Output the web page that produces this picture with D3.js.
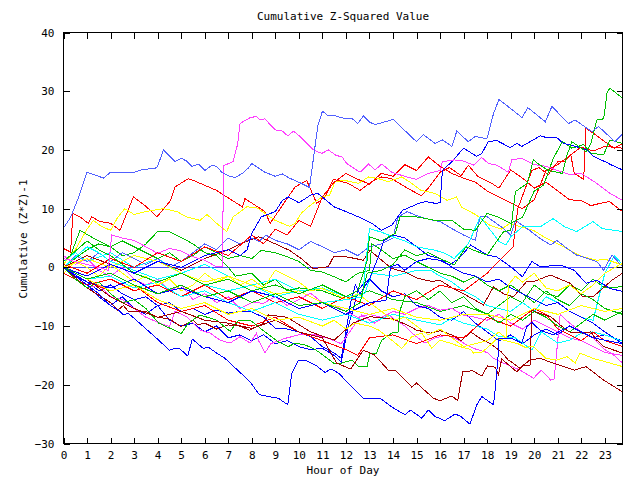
<!DOCTYPE html>
<html><head><meta charset="utf-8">
<script src="https://cdn.jsdelivr.net/npm/d3@7"></script>
<style>
body{margin:0;background:#fff;}
text{font-family:"DejaVu Sans Mono",monospace;font-size:11px;fill:#000;}
</style></head>
<body><svg id="c" width="640" height="480"></svg>
<script>
// ---- data (hour of day, cumulative (z*z)-1) ----
const hourTicks = d3.range(0, 24);
const valueTicks = [-30, -20, -10, 0, 10, 20, 30, 40];
const title = "Cumulative Z-Squared Value";
const xTitle = "Hour of Day";
const yTitle = "Cumulative (Z*Z)-1";

const LB1 = [[0,6.7],[0.3,8.5],[0.65,12],[1.0,16.2],[1.3,15.8],[1.7,15.2],[2.0,16.2],[2.5,16.2],[3.0,16.2],[3.3,16.6],[3.9,16.9],[4.0,17.2],[4.24,20.0],[4.74,18.0],[5.0,18.6],[5.23,18.1],[5.45,17.2],[5.74,17.6],[6.01,16.5],[6.3,17.4],[6.51,17.2],[6.72,16.2],[7.0,15.6],[7.3,15.3],[7.6,16.0],[7.85,16.9],[8.0,17.7],[8.56,16.2],[9.0,15.5],[9.3,15.9],[9.6,15.2],[10.0,14.5],[10.45,13.6],[10.6,18],[10.8,24],[11.0,26.6],[11.25,25.8],[11.54,25.8],[11.82,25.5],[12.03,25.3],[12.25,25.4],[12.5,24.5],[12.74,25.8],[13.02,24.7],[13.24,24.3],[13.66,24.8],[14.01,25.2],[14.37,23.8],[15.0,21.4],[15.29,22.6],[15.79,21.1],[16.1,21.7],[16.5,20.6],[16.71,23.2],[17.2,21.4],[17.49,22.3],[17.99,21.9],[18.27,26.2],[18.5,28.6],[18.98,27.1],[19.48,25.5],[19.73,27.2],[20.47,24.8],[20.75,27.4],[21.46,24.5],[21.74,25.1],[22.45,23.1],[22.73,24.0],[23.43,21.4],[23.72,22.6],[23.75,22.4]];
const M1 = [[0,1.5],[0.5,1],[1,0.5],[1.5,0],[1.9,-0.5],[2.05,5.5],[2.5,5],[3,4.6],[3.5,3.5],[4,2.4],[4.5,3.2],[5,2.8],[5.5,1.8],[6,1.2],[6.5,0.1],[6.75,0.1],[6.8,17.3],[7.2,18.0],[7.4,21],[7.5,24.5],[7.93,25.5],[8.2,25.7],[8.35,25.1],[8.55,25.3],[9.0,23.4],[9.27,23.3],[9.53,22.4],[9.77,23.2],[10.05,22.3],[10.62,20.0],[10.97,19.4],[11.25,20.0],[11.61,19.0],[11.82,18.9],[12.03,17.7],[12.6,16.2],[12.96,17.6],[13.24,16.6],[13.52,17.6],[13.95,16.2],[14.5,15.5],[15,15],[15.5,16],[16,16.5],[16.1,18.0],[16.6,18.3],[17.0,18.1],[17.42,17.4],[17.77,18.7],[18.05,17.7],[18.41,17.4],[18.9,16.2],[19.05,18.3],[19.46,18.6],[20,17.5],[20.5,17.2],[21,16.5],[21.5,15.8],[22.0,16.0],[22.66,14.3],[23.22,12.6],[23.75,11.4]];
const B1 = [[0,0],[0.5,-1.5],[1,-3],[1.5,-4.5],[2,-6.5],[2.4,-7.5],[2.55,-8.1],[2.75,-7.8],[3.96,-12.1],[4.5,-14.1],[4.74,-13.8],[4.95,-13.9],[5.28,-15.1],[5.47,-12.2],[5.94,-13.8],[6.15,-13.6],[6.51,-14.6],[6.86,-15.5],[7.93,-19.5],[8.32,-21.7],[9.13,-22.3],[9.53,-23.4],[9.7,-18.0],[9.98,-15.8],[10.33,-15.9],[10.76,-16.8],[11.11,-17.9],[11.37,-17.3],[11.68,-18.0],[12.74,-22.3],[13.45,-22.3],[13.95,-23.8],[14.51,-25.1],[14.75,-24.3],[15.22,-25.7],[15.5,-24.3],[15.79,-25.4],[16.2,-26.1],[16.63,-25.0],[16.85,-25.3],[17.27,-26.7],[17.56,-23.4],[17.77,-22.0],[18.27,-23.4],[18.34,-20.9],[18.48,-14.4],[18.5,-12.2],[19.11,-12.2],[19.47,-12.9],[19.68,-10.1],[19.9,-9.4],[20.25,-10.7],[20.8,-11.5],[21.5,-10],[22.5,-12],[23.75,-13]];
const DR1 = [[0,0],[1,-2],[2,-5],[3,-7],[4,-8.5],[5,-7.5],[6,-9],[7,-9.5],[8,-10.4],[9,-9],[10,-11],[11,-12],[11.6,-16.3],[12.2,-17.3],[12.74,-14.1],[13.2,-14.9],[13.8,-17.5],[14.1,-17.5],[14.8,-20.4],[15,-19.7],[15.72,-22.3],[16,-22.7],[16.5,-21.9],[16.75,-22.7],[16.96,-17.8],[17.37,-17.6],[17.77,-18.5],[18.01,-16.8],[18.34,-17],[18.48,-18.3],[18.62,-15.6],[19.26,-17.8],[19.54,-16.6],[19.82,-16.8],[19.9,-7.3],[20.2,-7.8],[20.7,-8.4],[21.1,-9.8],[21.5,-11.0],[22.1,-11.2],[22.4,-11],[22.66,-12.4],[22.95,-13.5],[23.75,-14.6]];
const DR2 = [[0,0],[1,-3.5],[2,-6],[2.3,-7.3],[2.55,-6.5],[2.75,-7.5],[3.5,-7.5],[4,-8.5],[4.5,-8.8],[5,-10.1],[5.5,-9],[5.7,-9.8],[6,-9.5],[6.5,-10.5],[7,-9.8],[7.5,-10],[7.9,-10.7],[8.5,-9.5],[8.7,-8.1],[9.5,-8.5],[10.5,-11],[11.5,-12.4],[12.3,-9.5],[13,-8.4],[14,-8.8],[14.6,-9.8],[15,-10.7],[15.6,-11.2],[16,-10.8],[16.5,-11.5],[16.9,-12.5],[17.3,-11],[17.7,-12.1],[18.1,-12.9],[18.6,-14.4],[18.9,-15.8],[19.1,-16.3],[19.4,-17.2],[19.8,-15.8],[20.25,-15.5],[20.8,-16.3],[21.7,-17.5],[22.2,-16.9],[22.95,-19.2],[23.75,-21.2]];
const DR3 = [[0,0],[1,2],[2,0.5],[3,-1],[4,1],[5,-0.5],[6,1.5],[7,3],[7.5,4],[8.3,5.2],[9,4],[9.6,2.9],[10.1,1.5],[10.6,-0.2],[11.25,0.1],[11.47,1.8],[12,1.8],[12.4,1.5],[12.74,1.2],[13.02,2.9],[13.52,1.2],[13.95,-0.2],[14.51,-0.8],[15.08,-1.9],[15.65,-2.4],[16.0,-2.2],[16.5,-3.5],[17.0,-4.5],[17.84,-6.4],[18.27,-3.3],[18.7,-4.5],[19.12,-5.0],[19.68,-2.4],[20.0,-2.4],[20.68,-1.3],[21.52,-2.7],[22.07,-5.0],[22.5,-5.0],[23.3,-2.2],[23.75,-1.0]];
const R1 = [[0,3.2],[0.3,2.6],[0.4,9.2],[0.7,8.6],[1.05,7.5],[1.2,8.6],[1.55,7.8],[2,7.5],[2.4,6.3],[2.97,12.0],[3.53,10.3],[3.96,8.6],[4.1,9.2],[4.55,11.4],[4.74,13.7],[5.3,15.1],[5.52,14.8],[6.51,13.1],[6.93,12.0],[7.6,10.3],[7.71,11.7],[8.56,9.5],[8.78,7.5],[9.84,13.7],[10.33,14.8],[10.76,10.9],[11.11,12.0],[11.47,15.0],[12.1,14.3],[12.6,13.1],[13.1,14.6],[13.52,15.4],[13.95,15.1],[14.65,13.4],[15.2,12.2],[15.5,13.5],[16,16.2],[16.4,17.0],[16.9,15.6],[17.2,17.4],[17.6,15.5],[18.2,14.3],[18.5,13.5],[19,16.6],[19.5,15.2],[20,13.5],[20.5,14.5],[21,13.0],[21.5,11.5],[22,11.4],[22.4,10.5],[22.8,10.9],[23.2,11.2],[23.75,9.5]];
const R2 = [[0,-1],[1,-3],[2,-2],[3,-4],[4,-3],[5,-5],[6,-3],[7,-5.5],[8,-4],[9,-6],[10,-5],[11,-7],[12,-5],[13,-6.5],[14,-4],[15,-5.5],[16,-3],[17,-4],[18,-1],[18.6,1.5],[19.1,3.5],[19.3,10],[19.7,14.3],[19.9,16.5],[20.2,17.0],[20.6,15.8],[21.0,18.0],[21.3,18.0],[21.55,19.2],[21.7,16],[22.1,15.0],[22.2,23.7],[22.6,22.6],[23.0,21.4],[23.4,20.3],[23.75,21.1]];
const R3 = [[0,0.5],[1,-1],[2,1.5],[3,0],[4,2.5],[5,1],[6,3.5],[7,2],[8,5.5],[8.5,4],[9,6.5],[9.5,5.5],[10,8],[10.5,7],[11,12],[11.5,14.5],[12,16.0],[12.5,15],[13,14.2],[13.5,16.0],[14,15.5],[14.5,17.5],[15,16.5],[15.5,18.8],[16,17.2],[16.5,16.0],[17,15.2],[17.5,14.5],[18,13.0],[18.5,12.0],[19,11.0],[19.5,10.0],[20,11.5],[20.5,16.5],[21,17.5],[21.5,19.0],[22,20.5],[22.5,19.8],[23,20.6],[23.75,20.3]];
const R4 = [[0,0],[1,-2.5],[2,-4],[3,-3],[4,-6],[5,-7.5],[6,-6.5],[7,-9],[8,-10],[9,-8.5],[10,-11],[11,-12.5],[12,-14],[12.5,-15],[13,-12],[14,-11.5],[15,-13],[16,-11.5],[17,-12],[18,-8.5],[19,-10],[20,-7],[20.5,-8],[21,-10.5],[22,-12.5],[22.5,-11],[23,-12.5],[23.75,-13.5]];
const G1 = [[0,0],[1,-2],[2,-1],[3,-3],[4,-4.5],[5,-3],[6,-5],[7,-4],[8,-6],[9,-4.5],[10,-6.5],[11,-6],[12,-7.5],[12.6,-6],[12.9,-1],[13.5,-0.5],[14,0.5],[14.5,3],[15,2],[15.5,2.5],[16,1.5],[16.6,0.4],[17.1,3.5],[17.5,2.8],[18,2.1],[18.4,4.4],[18.7,6.1],[19,6.3],[19.2,12.9],[19.7,14.3],[19.85,16.5],[19.96,18.3],[20.25,17.4],[20.6,16.5],[21.2,16],[21.4,19.2],[21.6,21.4],[22.0,20.3],[22.2,19.7],[22.4,21],[22.66,25.1],[22.95,25.3],[23.1,29.9],[23.22,30.5],[23.75,28.8]];
const G2 = [[0,1],[1,4.5],[1.5,3],[2,2],[3,-1],[4,-2.5],[5,-1],[6,-3],[7,-2],[8,-4],[9,-3],[10,-4.5],[11,-3],[12,-5],[12.5,-4],[12.9,1.2],[13.0,5.2],[13.5,4.5],[14.1,5.8],[14.3,8.6],[15,8.6],[15.8,8.0],[16.5,8.0],[17,6.5],[17.5,6.3],[18,9.2],[18.5,8.5],[19,7.5],[19.5,8.5],[20,13],[20.4,14],[20.8,18.5],[21.2,21.4],[21.6,20.3],[22.1,20.9],[22.4,19.4],[22.95,19.2],[23.22,21.7],[23.75,21.1]];
const G3 = [[0,0.5],[0.3,2],[0.7,6.3],[1.3,4.9],[2,3.5],[2.5,2],[3,2.5],[3.5,4],[4,6.1],[4.5,6.1],[4.95,5.2],[5.5,4],[6,2.5],[6.5,2],[7,0],[7.3,-1.5],[8,-1],[8.5,-3],[9,-2],[9.5,-4],[10,-3.5],[11,-4],[12,-5.5],[13,-4],[14,-5.5],[15,-6],[16,-7.5],[17,-6.5],[18,-8],[19,-5],[19.5,-6],[20,-3],[20.5,-4.5],[21,-5],[21.5,-3],[22,-4],[22.5,-2],[23,-3.5],[23.75,-3.3]];
const G4 = [[0,0],[0.5,-2],[1,-3.5],[1.5,-2.5],[2,-4.5],[2.5,-6],[3,-5.5],[3.5,-7],[4.05,-9.5],[4.6,-10.5],[5.0,-11.3],[5.3,-9.5],[5.8,-8.1],[6.5,-9],[7.08,-10.9],[7.43,-9.0],[7.93,-9.0],[8.4,-10.5],[9.13,-12.7],[9.55,-13.5],[9.84,-12.9],[10.26,-13.2],[10.7,-14],[11.11,-15.2],[11.47,-16.3],[11.82,-16.3],[12.25,-15.8],[12.53,-16.9],[12.9,-16.9],[13.02,-14.6],[13.3,-14.6],[13.52,-12.4],[13.95,-11.2],[14.22,-11],[14.3,-7.3],[14.5,-5],[15,-4],[15.5,-5.5],[16,-4],[16.5,-6],[17,-5],[17.5,-7],[18,-8],[18.5,-9.5],[19,-8],[19.5,-9],[20,-7.5],[20.5,-8.5],[21,-10],[21.5,-11],[22,-9.5],[22.5,-8],[23,-9],[23.75,-7.5]];
const G5 = [[0,0],[0.5,1.5],[1,3],[1.5,4],[2,3.5],[2.5,4.5],[3,3.5],[3.5,2.5],[4,1.5],[4.5,2.5],[5,1],[5.5,2],[6,3.5],[6.5,2.5],[7,1.5],[7.5,2],[8,1.5],[8.4,2.9],[9,2.5],[9.5,1.8],[10,1.0],[10.5,-0.5],[11,-0.8],[11.5,-1.6],[12,-2.5],[12.5,-1],[13,-0.5],[13.1,4],[13.5,3],[14,1.5],[14.5,2.1],[15,1],[15.5,0],[16,-1],[16.5,-1.5],[17,-2.5],[17.5,-1.5],[18,-3],[18.5,-4],[19,-3],[19.5,-4.5],[20,-6],[20.5,-4],[21,-5.5],[21.5,-6.5],[22,-4.5],[22.5,-5.5],[23,-7],[23.75,-8]];
const B2 = [[0,0],[1,-1.5],[2,0.5],[3,-1],[4,1],[5,0],[6,2],[7,3],[7.5,2],[7.8,3],[8.0,5.8],[8.4,8.6],[9.0,9.5],[9.3,11.4],[9.55,12.0],[10,11.0],[10.5,12.3],[10.8,12.6],[11.5,10.3],[12,9.5],[12.7,8.3],[13.1,7.5],[13.5,6.3],[13.95,7.2],[14.4,9.7],[15.1,10.9],[15.4,11.2],[15.8,10.9],[16.0,11.0],[16.1,16.5],[16.5,18],[17,20.3],[17.55,18.9],[17.77,19.4],[18.05,21.4],[18.41,21.6],[18.98,20.4],[19.26,21.1],[19.47,20.6],[19.82,21.4],[20.25,22.4],[20.53,22.1],[20.96,22.1],[21.24,21.1],[21.52,20.9],[22.23,20.0],[22.51,18.9],[23.01,18.0],[23.3,17.4],[23.75,16.6]];
const B3 = [[0,0],[1,-2.5],[2,-3.5],[3,-2],[4,-4.5],[5,-3.5],[6,-5],[7,-6],[8,-4],[9,-5],[10,-7],[11,-6],[12,-8],[12.5,-7],[13,-6],[13.7,-5.6],[13.9,0.1],[14.2,0.5],[14.5,-0.5],[15,1],[15.5,1.5],[16,1.2],[16.4,0.4],[16.8,1.5],[17.3,3.8],[18,2.1],[18.4,1.8],[19,0.1],[19.5,-1.6],[19.9,1.0],[20.25,0.1],[21.1,0.4],[21.7,-0.5],[22.2,-2.7],[22.66,-2.2],[23.22,-3.6],[23.75,-4.1]];
const B4 = [[0,0],[0.5,-1.5],[1,-3],[1.5,-5],[2,-6.5],[2.5,-5],[3,-7],[3.5,-8],[4,-6.5],[4.5,-9],[5,-10],[5.5,-9.5],[6,-11],[6.5,-10],[7,-12],[7.5,-11.5],[8,-12.5],[8.5,-11.5],[9,-13],[9.5,-12.5],[10,-13.5],[10.5,-14],[11,-13.8],[11.5,-15],[11.8,-16.1],[12.1,-10],[12.3,-7.3],[12.5,-4],[12.7,-3],[13,-2],[13.5,-4],[14,-5],[14.5,-4.5],[15,-6.5],[15.5,-7],[16,-8.5],[16.5,-9],[17,-7.5],[17.5,-9.5],[18,-11],[18.5,-12.5],[19,-11.5],[19.5,-13],[20,-11.5],[20.5,-10.5],[21,-11.5],[21.5,-10],[22,-11],[22.5,-12],[23,-11.5],[23.75,-12.5]];
const B5 = [[0,0],[0.5,-1.5],[1,-2.5],[1.5,-4],[2,-3],[2.5,-4.5],[3,-5.5],[3.5,-5],[4,-6.5],[4.5,-6],[5,-7.5],[5.5,-7],[6,-8],[6.5,-7.3],[7,-7.8],[7.5,-7.5],[8,-7.6],[8.5,-8.5],[9,-10.4],[9.5,-10.5],[10,-11],[10.5,-11.8],[11,-13.5],[11.5,-14.6],[11.8,-15.5],[12.0,-11],[12.2,-6],[12.4,-3],[12.6,-4.5],[13,-2],[13.4,2],[13.6,4.5],[14,5.5],[14.5,5],[15,3.5],[15.5,2],[16,1.5],[16.5,0],[17,-1],[17.5,-1.5],[18,-2.5],[18.5,-2],[19,-3.5],[19.5,-4.5],[20,-5.5],[20.5,-6.5],[21,-6],[21.5,-7.5],[22,-8.5],[22.5,-9.5],[23,-11],[23.75,-13]];
const C1 = [[0,0],[1,3.5],[1.5,2.5],[2,1],[3,-0.5],[4,-2],[5,-1],[6,-3],[7,-4],[8,-3],[9,-5],[10,-4],[11,-6],[12,-5.5],[12.7,-5],[13.0,6.6],[13.5,6.0],[14,5.2],[14.5,4.5],[15,3.5],[15.8,2.9],[16.2,2.4],[16.6,1.5],[17.2,4],[17.7,8.6],[18.2,6],[18.5,4.4],[18.8,3.8],[19.0,5.2],[19.5,6.9],[20.25,6.9],[20.8,8.3],[21.3,6.9],[21.8,6.1],[22.5,7.8],[22.9,6.6],[23.75,6.1]];
const C2 = [[0,0],[1,-2],[2,-1.5],[3,-3.5],[4,-2.5],[5,-5],[6,-4],[7,-6],[8,-7.5],[9,-6],[10,-8],[11,-9],[12,-8],[13,-9.5],[14,-8],[15,-9],[16,-9.8],[16.5,-8.7],[17,-9.5],[18,-10.5],[18.5,-11.8],[19.2,-12],[19.9,-14.1],[20.3,-11],[21,-12.9],[21.5,-12.4],[22,-11.2],[22.5,-11],[23,-11.5],[23.75,-12.6]];
const C3 = [[0,1],[0.5,2.5],[1,1],[2,2.5],[3,0],[4,1.5],[5,-1],[6,0.5],[7,-1.5],[8,-3],[9,-2],[10,-4],[11,-3.5],[12,-5],[12.8,-4.5],[13.1,-1],[14,-1.5],[15,-0.5],[15.6,-0.5],[16,-1.5],[16.5,-2.5],[17,-4],[17.5,-5],[18,-6.5],[18.5,-7],[19,-7.5],[19.5,-6],[20,-7.5],[20.5,-5],[21,-6],[21.5,-7.5],[22,-8.5],[22.5,-9],[23,-1],[23.4,2],[23.75,0.5]];
const Y1 = [[0,0.5],[0.5,3],[1.0,6.5],[1.27,8.0],[1.6,7],[2,6.3],[2.3,8.5],[2.6,10],[3,9],[3.5,9.5],[4.24,10.0],[4.82,9.5],[5.23,8.6],[5.8,8.0],[6.1,9],[6.5,7.5],[6.93,6.1],[7.21,8.6],[7.78,10.3],[8.2,10.2],[8.56,9.2],[8.99,8.0],[9.6,7],[9.84,7.5],[10.1,9.2],[10.4,10.3],[10.98,12.0],[11.3,12.3],[11.54,14.6],[11.96,14.8],[12.53,14.3],[12.96,15.4],[13.38,15.1],[13.8,14.6],[14.37,15.4],[14.8,14.3],[15.2,13.1],[15.79,12.6],[16.3,11.4],[16.7,12],[16.9,10.3],[17.5,9],[18.1,7.2],[18.6,6.5],[18.98,7.5],[19.5,6.8],[19.97,6.3],[20.4,5.2],[20.96,4.1],[21.52,2.9],[22.07,1.8],[22.66,1.2],[23.0,1.4],[23.75,0.4]];
const Y2 = [[0,0],[1,-2],[2,-4],[3,-3],[4,-5.5],[5,-7],[6,-6],[7,-8],[8,-7],[9,-9],[10,-8.5],[11,-10],[11.5,-9],[12,-10.5],[12.4,-9.5],[13,-10],[13.4,-10.7],[13.95,-12.4],[14.37,-13.8],[14.8,-11.8],[15.22,-11.2],[15.65,-13.8],[16.0,-12.4],[16.5,-13.0],[16.85,-13.5],[17.3,-14],[17.42,-14.6],[17.8,-14.4],[18.2,-13],[18.41,-12.1],[18.8,-12.5],[19.3,-13],[19.6,-13.6],[19.97,-13.5],[20.5,-15.5],[20.96,-15.8],[21.4,-15.2],[21.74,-16.3],[21.94,-14.6],[22.5,-15.5],[23.22,-16.3],[23.75,-16.9]];
const Y3 = [[0,0],[1,1.5],[2,0],[3,2],[4,1],[5,-1],[6,-2.5],[7,-1.5],[8,-3],[9,-4.5],[10,-4],[11,-6],[12,-7],[13,-8],[14,-7],[15,-8.5],[16,-9],[17,-8],[18,-8],[19,-9],[20,-7],[21,-8],[22,-6.5],[23,-7.5],[23.75,-7]];
const Y4 = [[0,-1],[0.5,1],[1,0],[1.5,-1.5],[2,0.5],[2.5,-1],[3,-2.5],[3.5,-1.5],[4,-3],[4.5,-2],[5,-4],[5.5,-3],[6,-1],[6.5,-2.5],[7,-1.5],[7.5,-3],[8,-2],[8.5,-3.5],[9,-0.5],[9.5,-1.5],[10,-2.5],[10.5,-4],[11,-3.6],[11.5,-4.5],[12,-5.5],[12.5,-4.5],[13,-6],[13.5,-7.5],[14,-9],[14.5,-8.5],[15,-10],[15.5,-11.5],[16,-10.5],[16.5,-12],[17,-13.5],[17.5,-13],[18,-12.5],[18.5,-11],[18.8,-12.1],[18.9,-3],[19.2,-1.5],[19.5,-2.5],[20,-1],[20.5,-3.5],[21,-4],[21.5,-3],[22,-4.5],[22.5,-3],[23,-1],[23.75,0.7]];
const M2 = [[0,0],[0.5,-2],[1,-3.5],[1.5,-3],[2,-5],[2.5,-5.5],[3,-7],[3.5,-8.5],[4.1,-9.5],[4.5,-10.1],[4.74,-7.5],[5.23,-8.4],[5.8,-10.7],[6.23,-11.2],[6.65,-12.4],[7.08,-12.9],[7.5,-11.8],[7.93,-12.9],[8.2,-11.2],[8.28,-12.4],[8.56,-14.6],[8.8,-13],[9.41,-12.1],[10,-11.5],[10.69,-11.5],[11.25,-12.1],[11.8,-13],[12.67,-8.1],[13.2,-9.5],[13.8,-8.1],[14.5,-10],[14.8,-11.2],[15.36,-12.9],[15.8,-12],[16.3,-11.5],[16.7,-12.2],[17.0,-12.9],[17.42,-13.8],[18.0,-14.5],[18.27,-15.5],[18.69,-16.3],[19.4,-17.5],[19.97,-18.9],[20.3,-17.5],[20.7,-19.2],[20.85,-19],[21.1,-8],[21.5,-9.5],[22,-11],[22.5,-12],[23,-14],[23.4,-15],[23.75,-16.3]];
const M3 = [[0,2],[0.5,0.5],[1,1.5],[1.5,-0.5],[2,-1.5],[2.5,0],[3,-2],[3.5,-3],[4,-2],[4.5,-4],[5,-3],[5.5,-5.5],[6,-4.5],[6.5,-6],[7,-5],[7.5,-7],[8,-6],[8.5,-6.1],[9,-5],[9.5,-6.5],[10,-5.5],[10.5,-4.4],[11,-6],[11.5,-6.5],[12,-7.5],[12.5,-8.5],[13,-8],[13.5,-8.5],[14,-7.5],[14.5,-8.0],[15,-7],[15.5,-6.5],[16,-7.3],[16.5,-7],[17,-8.2],[17.5,-8.5],[18,-9],[18.5,-8],[19,-9.5],[19.5,-10.5],[20,-9],[20.5,-10],[21,-11],[21.5,-12],[22,-12.5],[22.5,-13.5],[23,-14.5],[23.75,-15]];
const LB2 = [[0,0],[0.5,2],[1,1],[1.5,2.5],[2,1],[2.5,2.5],[3,1.5],[3.5,0.5],[4,1.5],[4.5,0],[5,1],[5.5,2.5],[6,4],[6.5,3],[7,5],[7.5,4],[8,5],[8.3,4.4],[8.6,5.5],[9,4.6],[9.5,4],[10,3],[10.5,4.4],[11,3.5],[11.5,2.5],[12,3],[12.5,2],[13,3.5],[13.5,4],[14,5],[14.2,8.5],[14.6,9.5],[15,8.8],[15.5,8.2],[16,7.8],[16.5,6.6],[17,5.5],[17.5,4.6],[17.7,8.6],[18,8.6],[18.7,6.6],[19.0,5.5],[19.2,8.0],[19.8,6.3],[20.25,4.9],[20.7,3.8],[20.96,4.6],[21.4,3.2],[21.8,2.1],[22.66,1.0],[22.95,-0.5],[23.3,2.1],[23.75,0.1]];

const seriesNames = ["R1","G3","B4","M3","C3","DR3","Y1","LB2","R2","G5","B5","M2","C2","DR2","Y4","R4","G4","B3","C1","Y3","R3","G2","B2","M1","DR1","Y2","G1","B1","LB1"];
const seriesData = {R1,G3,B4,M3,C3,DR3,Y1,LB2,R2,G5,B5,M2,C2,DR2,Y4,R4,G4,B3,C1,Y3,R3,G2,B2,M1,DR1,Y2,G1,B1,LB1};
const palette = {R:"#ff0000",G:"#00c000",B:"#0000ff",M:"#ff40ff",C:"#00ffff",DR:"#a00000",Y:"#ffff00",LB:"#5060ff"};

// ---- drawing ----
const svg = d3.select("#c");
const L = 63.5, R = 622.5, T = 32.5, Bm = 443.5;
const x = d3.scaleLinear().domain([0, 23.75]).range([L, R]);
const y = d3.scaleLinear().domain([-30, 40]).range([Bm, T]);

svg.append("rect").attr("width",640).attr("height",480).attr("fill","#fff");

// zero line
svg.append("line").attr("x1",L).attr("x2",R).attr("y1",Math.round(y(0))+0.5).attr("y2",Math.round(y(0))+0.5)
  .attr("stroke","#4848ff").attr("stroke-width",1).attr("shape-rendering","crispEdges");

const line = d3.line().x(d=>x(d[0])).y(d=>y(d[1]));
const g = svg.append("g");
seriesNames.forEach(n=>{
  const key = n.replace(/[0-9]/g,"");
  g.append("path").datum(seriesData[n]).attr("d",line)
    .attr("fill","none").attr("stroke",palette[key]).attr("stroke-width",1)
    .attr("shape-rendering","crispEdges");
});

// axes
const ax = svg.append("g").attr("shape-rendering","crispEdges");
ax.append("g").attr("transform",`translate(0,${Bm})`)
  .call(d3.axisBottom(x).tickValues(hourTicks).tickFormat(d3.format("d")).tickSizeInner(-6).tickSizeOuter(0).tickPadding(8));
ax.append("g").attr("transform",`translate(0,${T})`)
  .call(d3.axisTop(x).tickValues(hourTicks).tickFormat("").tickSizeInner(-6).tickSizeOuter(0));
ax.append("g").attr("transform",`translate(${L},0)`)
  .call(d3.axisLeft(y).tickValues(valueTicks).tickFormat(d3.format("d")).tickSizeInner(-6).tickSizeOuter(0).tickPadding(9));
ax.append("g").attr("transform",`translate(${R},0)`)
  .call(d3.axisRight(y).tickValues(valueTicks).tickFormat("").tickSizeInner(-6).tickSizeOuter(0));
ax.selectAll(".domain").remove();
ax.selectAll(".tick line").attr("stroke","#000");
ax.selectAll("text").attr("font-family","DejaVu Sans Mono").attr("font-size","11px").attr("fill","#000");
svg.append("rect").attr("x",L).attr("y",T).attr("width",R-L).attr("height",Bm-T)
  .attr("fill","none").attr("stroke","#000").attr("shape-rendering","crispEdges");

svg.append("text").attr("x",(L+R)/2).attr("y",20).attr("text-anchor","middle").text(title);
svg.append("text").attr("x",(L+R)/2).attr("y",474).attr("text-anchor","middle").text(xTitle);
svg.append("text").attr("transform","translate(27,239) rotate(-90)").attr("text-anchor","middle").text(yTitle);
</script></body></html>
